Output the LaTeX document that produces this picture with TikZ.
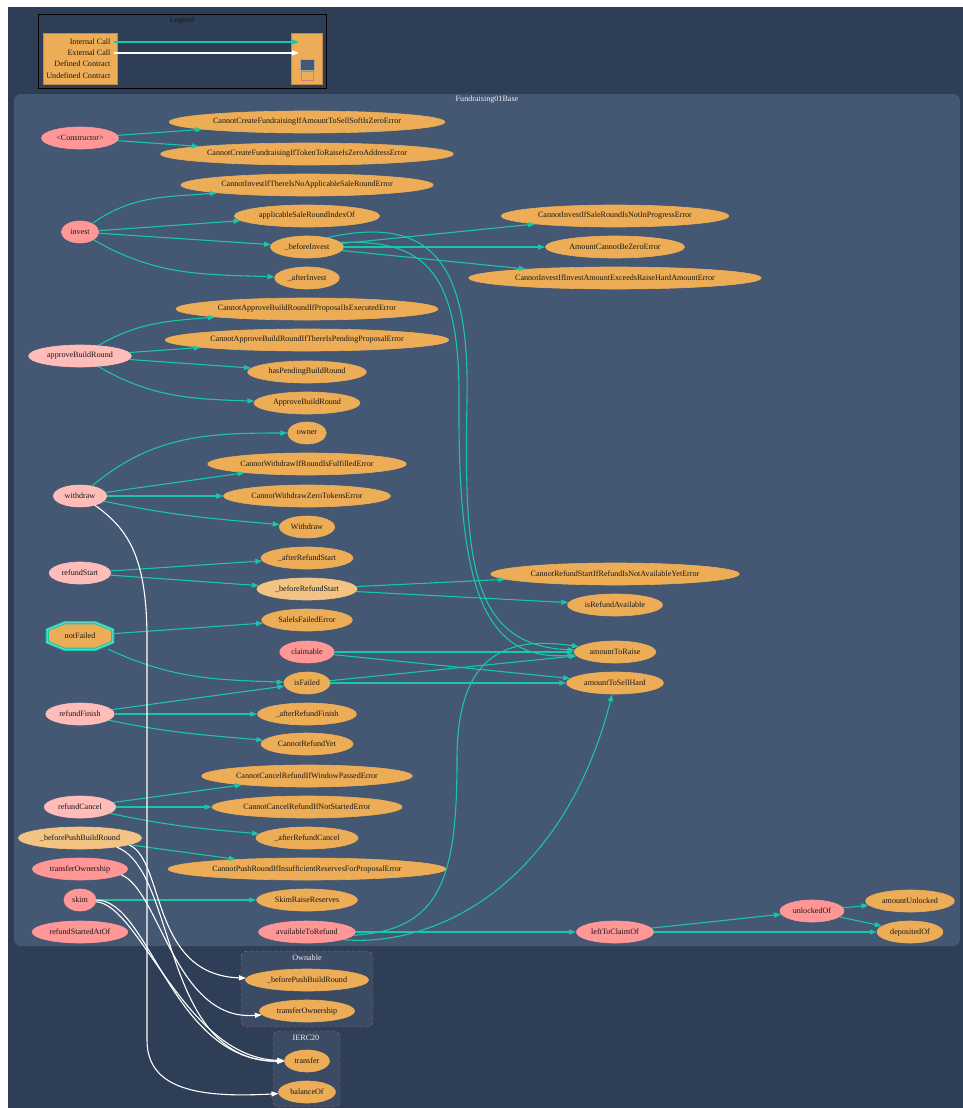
\documentclass[tikz,border=0pt]{standalone}
\usepackage{fontspec}
\setmainfont{Liberation Serif}
\usepackage{xcolor}
\usepackage{tikz}
\usetikzlibrary{arrows.meta, shapes.geometric, backgrounds}

\definecolor{bgdark}{HTML}{2E3E56}
\definecolor{defcl}{HTML}{445773}
\definecolor{undefcl}{HTML}{3B4B63}
\definecolor{undefbd}{HTML}{C0646E}
\definecolor{pubfn}{HTML}{FF9797}
\definecolor{extfn}{HTML}{FFBDB9}
\definecolor{privfn}{HTML}{EDAD56}
\definecolor{intfn}{HTML}{F2C383}
\definecolor{callc}{HTML}{1BC6A6}
\definecolor{titlec}{HTML}{F0F0F0}

\begin{document}
\begin{tikzpicture}[
    x=1pt, y=1pt,
    every node/.style={font=\fontsize{8.1}{9}\selectfont, text=black!90},
    fn/.style={
        ellipse, draw=#1, fill=#1, line width=0.6pt,
        inner xsep=3.5pt, inner ysep=0pt, minimum height=22pt
    },
    fn/.default=privfn,
    modf/.style={minimum width=65pt, minimum height=26pt, inner sep=0pt},
    octo/.style={
        draw=callc, line width=1.2pt, double=callc!55!white, double distance=0.8pt,
        fill=privfn, line join=miter
    },
    call/.style={-{Triangle[length=7pt,width=5pt]}, draw=callc, line width=1.1pt},
    ext/.style={-{Triangle[length=7pt,width=5pt]}, draw=white, line width=1.1pt},
    ttl/.style={text=titlec},
    ucl/.style={draw=undefbd, dashed, fill=undefcl, rounded corners=6pt}
]
\useasboundingbox (0,0) rectangle (963,-1108);
\begin{scope}[on background layer]
\fill[white] (0,0) rectangle (963,-1108);
\fill[bgdark] (8,-7) rectangle (963,-1108);
% Clusters
\fill[defcl, rounded corners=7pt] (14,-94) rectangle (960,-946);
\draw[ucl] (241,-951) rectangle (373,-1027);
\draw[ucl] (273,-1031) rectangle (340,-1107);
\end{scope}

% Legend
\draw[black, fill=bgdark] (38,-14) rectangle (326,-88);
\node (legTitle) at (182,-21) {Legend};
\node[fill=privfn, draw=privfn!80!black, minimum width=74pt, minimum height=51pt, inner sep=0pt] (keyL) at (80,-58.5) {};
\node[fill=privfn, draw=privfn!80!black, minimum width=31pt, minimum height=51pt, inner sep=0pt] (keyR) at (306.5,-58.5) {};
\node[anchor=east] (legInt)   at (114,-42) {Internal Call};
\node[anchor=east] (legExt)   at (114,-53) {External Call};
\node[anchor=east] (legDef)   at (114,-64) {Defined Contract};
\node[anchor=east] (legUndef) at (114,-76) {Undefined Contract};
\coordinate (legIntEnd) at (299,-42);
\coordinate (legExtEnd) at (299,-53);
\draw[call] (legInt.east) -- (legIntEnd);
\draw[ext]  (legExt.east) -- (legExtEnd);
\node[draw=gray!70, fill=defcl, minimum width=14pt, minimum height=11pt, inner sep=0pt] (legDefBox) at (307,-64.5) {};
\node[draw=undefbd!60!pubfn, minimum width=12pt, minimum height=9pt, inner sep=0pt] (legUndefBox) at (307,-76) {};

\node[ttl] (fundTitle) at (487,-100) {Fundraising01Base};
\node[ttl] (ownTitle) at (307,-958) {Ownable};
\node[ttl] (ercTitle) at (306,-1038) {IERC20};

% Functions of Fundraising01Base: callers on the left, callees in the middle and right columns
\node[fn=pubfn] (cons)     at (80,-138) {\textless Constructor\textgreater};
\node[fn] (eSoft)    at (307,-122) {CannotCreateFundraisingIfAmountToSellSoftIsZeroError};
\node[fn] (eToken)   at (307,-154) {CannotCreateFundraisingIfTokenToRaiseIsZeroAddressError};
\node[fn] (eNoRound) at (307,-185) {CannotInvestIfThereIsNoApplicableSaleRoundError};
\node[fn] (appIdx)   at (307,-216) {applicableSaleRoundIndexOf};
\node[fn=pubfn] (invest)   at (80,-232) {invest};
\node[fn] (bInvest)  at (307,-247) {\_beforeInvest};
\node[fn] (aInvest)  at (307,-278) {\_afterInvest};
\node[fn] (eNotProg) at (615,-216) {CannotInvestIfSaleRoundIsNotInProgressError};
\node[fn] (eZero)    at (615,-247) {AmountCannotBeZeroError};
\node[fn] (eHard)    at (615,-278) {CannotInvestIfInvestAmountExceedsRaiseHardAmountError};
\node[fn] (eExec)    at (307,-309) {CannotApproveBuildRoundIfProposalIsExecutedError};
\node[fn] (ePend)    at (307,-340) {CannotApproveBuildRoundIfThereIsPendingProposalError};
\node[fn=extfn] (approve)  at (80,-356) {approveBuildRound};
\node[fn] (hasPend)  at (307,-372) {hasPendingBuildRound};
\node[fn] (evApprove) at (307,-403) {ApproveBuildRound};
\node[fn] (owner)    at (307,-433) {owner};
\node[fn] (eFulfil)  at (307,-464) {CannotWithdrawIfRoundIsFulfilledError};
\node[fn=extfn] (withdraw) at (80,-496) {withdraw};
\node[fn] (eZeroTok) at (307,-496) {CannotWithdrawZeroTokensError};
\node[fn] (evWithdraw) at (307,-527) {Withdraw};
\node[fn] (aRStart)  at (307,-558) {\_afterRefundStart};
\node[fn=extfn] (rStart)   at (80,-573) {refundStart};
\node[fn=intfn] (bRStart)  at (307,-589) {\_beforeRefundStart};
\node[fn] (eNotAvail) at (615,-574) {CannotRefundStartIfRefundIsNotAvailableYetError};
\node[fn] (isRAvail) at (615,-605) {isRefundAvailable};
\node[fn] (eFailed)  at (307,-620) {SaleIsFailedError};
\node[modf] (notFailed) at (80,-636) {notFailed};
\begin{scope}[on background layer]
\draw[octo] ([xshift=17pt]notFailed.north west) -- ([xshift=-17pt]notFailed.north east)
    -- ([yshift=-7pt]notFailed.north east) -- ([yshift=7pt]notFailed.south east)
    -- ([xshift=-17pt]notFailed.south east) -- ([xshift=17pt]notFailed.south west)
    -- ([yshift=7pt]notFailed.south west) -- ([yshift=-7pt]notFailed.north west) -- cycle;
\end{scope}
\node[fn=pubfn] (claimable) at (307,-652) {claimable};
\node[fn] (isFailed) at (307,-683) {isFailed};
\node[fn] (aToRaise) at (615,-652) {amountToRaise};
\node[fn] (aToSell)  at (615,-683) {amountToSellHard};
\node[fn=extfn] (rFinish)  at (80,-714) {refundFinish};
\node[fn] (aRFinish) at (307,-714) {\_afterRefundFinish};
\node[fn] (eRYet)    at (307,-744) {CannotRefundYet};
\node[fn] (eWindow)  at (307,-776) {CannotCancelRefundIfWindowPassedError};
\node[fn=extfn] (rCancel)  at (80,-807) {refundCancel};
\node[fn] (eNotStart) at (307,-807) {CannotCancelRefundIfNotStartedError};
\node[fn=intfn] (bPush)    at (80,-838) {\_beforePushBuildRound};
\node[fn] (aRCancel) at (307,-838) {\_afterRefundCancel};
\node[fn=pubfn] (tOwn)     at (80,-869) {transferOwnership};
\node[fn] (eReserve) at (307,-869) {CannotPushRoundIfInsufficientReservesForProposalError};
\node[fn=pubfn] (skim)     at (80,-900) {skim};
\node[fn] (evSkim)   at (307,-900) {SkimRaiseReserves};
\node[fn=pubfn] (rStartedAt) at (80,-932) {refundStartedAtOf};
\node[fn=pubfn] (aRefund)  at (307,-932) {availableToRefund};
\node[fn=pubfn] (leftClaim) at (615,-932) {leftToClaimOf};
\node[fn=pubfn] (unlocked) at (812,-911) {unlockedOf};
\node[fn] (amtUnlock) at (910,-901) {amountUnlocked};
\node[fn] (deposited) at (910,-932) {depositedOf};

% External contracts
\node[fn] (oPush)    at (307,-980) {\_beforePushBuildRound};
\node[fn] (oTOwn)    at (307,-1011) {transferOwnership};
\node[fn] (iTransfer) at (307,-1061) {transfer};
\node[fn] (iBalance) at (307,-1092) {balanceOf};

% Internal calls
\draw[call] (cons) -- (eSoft);
\draw[call] (cons) -- (eToken);
\draw[call] (invest) to[out=35,in=185] (eNoRound);
\draw[call] (invest) -- (appIdx);
\draw[call] (invest) -- (bInvest);
\draw[call] (invest) to[out=-30,in=178] (aInvest);
\draw[call] (bInvest) -- (eNotProg);
\draw[call] (bInvest) -- (eZero);
\draw[call] (bInvest) -- (eHard);
\draw[call] (bInvest.25) .. controls (430,-215) and (470,-260) .. (467,-400)
    .. controls (464,-560) and (470,-645) .. (aToRaise);
\draw[call] (bInvest.8) .. controls (420,-240) and (460,-265) .. (459,-400)
    .. controls (458,-580) and (480,-662) .. (aToRaise);
\draw[call] (approve) to[out=30,in=185] (eExec);
\draw[call] (approve) -- (ePend);
\draw[call] (approve) -- (hasPend);
\draw[call] (approve) to[out=-30,in=178] (evApprove);
\draw[call] (withdraw) to[out=40,in=180] (owner);
\draw[call] (withdraw) -- (eFulfil);
\draw[call] (withdraw) -- (eZeroTok);
\draw[call] (withdraw) to[out=-12,in=175] (evWithdraw);
\draw[call] (rStart) -- (aRStart);
\draw[call] (rStart) -- (bRStart);
\draw[call] (bRStart) -- (eNotAvail);
\draw[call] (bRStart) -- (isRAvail);
\draw[call] (notFailed) -- (eFailed);
\draw[call] (notFailed) to[out=-25,in=178] (isFailed);
\draw[call] (claimable) -- (aToRaise);
\draw[call] (claimable) -- (aToSell);
\draw[call] (isFailed) -- (aToRaise);
\draw[call] (isFailed) -- (aToSell);
\draw[call] (rFinish) -- (isFailed);
\draw[call] (rFinish) -- (aRFinish);
\draw[call] (rFinish) to[out=-12,in=175] (eRYet);
\draw[call] (rCancel) -- (eWindow);
\draw[call] (rCancel) -- (eNotStart);
\draw[call] (rCancel) to[out=-12,in=175] (aRCancel);
\draw[call] (bPush) -- (eReserve);
\draw[call] (skim) -- (evSkim);
\draw[call] (aRefund.-4) .. controls (440,-930) and (457,-880) .. (457,-760)
    .. controls (457,-660) and (500,-635) .. (aToRaise);
\draw[call] (aRefund.-12) .. controls (440,-948) and (565,-880) .. (aToSell);
\draw[call] (aRefund) -- (leftClaim);
\draw[call] (leftClaim) -- (unlocked);
\draw[call] (leftClaim) -- (deposited);
\draw[call] (unlocked) -- (amtUnlock);
\draw[call] (unlocked) -- (deposited);

% External calls
\draw[ext] (withdraw.-32) .. controls (130,-530) and (147,-560) .. (147,-640)
    -- (147,-1040) .. controls (147,-1090) and (200,-1098) .. (iBalance);
\draw[ext] (bPush.-8) .. controls (165,-860) and (150,-975) .. (oPush);
\draw[ext] (bPush.-14) .. controls (178,-870) and (160,-1062) .. (iTransfer);
\draw[ext] (tOwn.-8) .. controls (160,-890) and (175,-1022) .. (oTOwn);
\draw[ext] (skim.east) .. controls (150,-900) and (172,-1062) .. (iTransfer);
\draw[ext] (skim.-6) .. controls (140,-905) and (185,-1058) .. (iTransfer);

\end{tikzpicture}
\end{document}
